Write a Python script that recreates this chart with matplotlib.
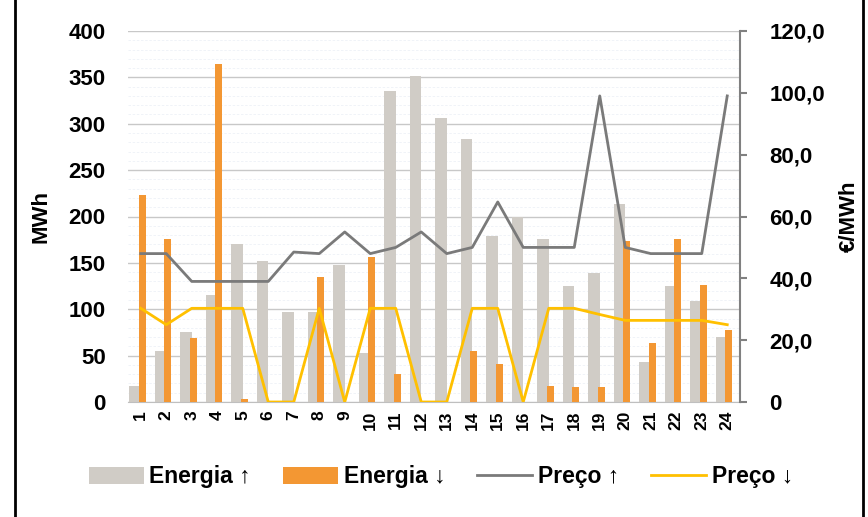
import matplotlib
matplotlib.use("Agg")
import matplotlib.pyplot as plt
import numpy as np
from matplotlib.lines import Line2D
from matplotlib.patches import Patch
from matplotlib.ticker import FuncFormatter, MultipleLocator

plt.rcParams["font.family"] = ["Liberation Sans", "DejaVu Sans"]
plt.rcParams["font.weight"] = "bold"

hours = list(range(1, 25))
energia_up = [17, 55, 75, 115, 170, 152, 97, 97, 148, 53, 335, 352,
              306, 284, 179, 199, 176, 125, 139, 214, 43, 125, 109, 70]
energia_down = [223, 176, 69, 364, 3, 0, 0, 135, 0, 156, 30, 0,
                0, 55, 41, 0, 17, 16, 16, 174, 64, 176, 126, 78]
preco_up = [48.0, 48.0, 39.0, 39.0, 39.0, 39.0, 48.5, 48.0, 55.0, 48.0, 50.0, 55.0,
            48.0, 50.0, 64.7, 50.0, 50.0, 50.0, 99.0, 50.0, 48.0, 48.0, 48.0, 99.0]
preco_down = [30.3, 25.0, 30.3, 30.3, 30.3, 0, 0, 30.3, 0, 30.3, 30.3, 0,
              0, 30.3, 30.3, 0, 30.3, 30.3, 28.3, 26.4, 26.4, 26.4, 26.4, 25.0]

c_gray_bar = "#D0CCC6"
c_orange = "#F39733"
c_gray_line = "#7A7A7A"
c_yellow = "#FFC000"

fig = plt.figure(figsize=(8.68, 5.17), dpi=100)
ax = fig.add_axes([128 / 868, 1 - 402 / 517, 612 / 868, 371 / 517])
ax2 = ax.twinx()

x = np.arange(len(hours))
ax.bar(x - 0.23, energia_up, width=0.46, color=c_gray_bar, zorder=2)
ax.bar(x + 0.06, energia_down, width=0.27, color=c_orange, zorder=3)

ax2.plot(x, preco_up, color=c_gray_line, lw=2.0)
ax2.plot(x, preco_down, color=c_yellow, lw=2.0)

ax.set_xlim(-0.5, len(hours) - 0.5)
ax.set_ylim(0, 400)
ax2.set_ylim(0, 120)

# grid: solid major, very faint dashed minor
ax.yaxis.set_major_locator(MultipleLocator(50))
ax.yaxis.set_minor_locator(MultipleLocator(10))
ax.grid(axis="y", which="major", color="#C8C8C8", lw=1.0, zorder=0)
ax.grid(axis="y", which="minor", color="#EEF1F7", lw=0.6, ls=(0, (3, 2)), zorder=0)
ax.set_axisbelow(True)

for a in (ax, ax2):
    for s in ("top", "left", "right"):
        a.spines[s].set_visible(False)
ax.spines["bottom"].set_color("#BFBFBF")
ax2.spines["bottom"].set_visible(False)
ax2.spines["right"].set_visible(True)
ax2.spines["right"].set_color("#808080")
ax2.spines["right"].set_linewidth(1.5)

ax.set_xticks(x)
ax.set_xticklabels([str(h) for h in hours], rotation=90, fontsize=12.5, fontweight="bold")
ax.tick_params(axis="x", length=0, pad=6)
ax.tick_params(axis="y", which="both", length=0, pad=16, labelsize=16)

ax2.yaxis.set_major_locator(MultipleLocator(20))
ax2.yaxis.set_major_formatter(FuncFormatter(
    lambda v, p: "0" if v == 0 else f"{v:.1f}".replace(".", ",")))
ax2.tick_params(axis="y", length=5, width=1.5, color="#808080", pad=16, labelsize=16)

ax.set_ylabel("MWh", fontsize=16, fontweight="bold", labelpad=12)
ax2.set_ylabel("€/MWh", fontsize=16, fontweight="bold", labelpad=10)

handles = [
    Patch(facecolor=c_gray_bar, label="Energia ↑"),
    Patch(facecolor=c_orange, label="Energia ↓"),
    Line2D([], [], color=c_gray_line, lw=2, label="Preço ↑"),
    Line2D([], [], color=c_yellow, lw=2, label="Preço ↓"),
]
fig.legend(handles=handles, loc="center", bbox_to_anchor=(441 / 868, 1 - 477 / 517),
           ncol=4, frameon=False, prop={"size": 16.5, "weight": "bold"},
           handlelength=2.4, handleheight=0.8, handletextpad=0.25, columnspacing=1.4)

# outer frame lines
fig.add_artist(Line2D([15 / 868, 15 / 868], [0, 1], color="black", lw=2, transform=fig.transFigure))
fig.add_artist(Line2D([863 / 868, 863 / 868], [0, 1], color="black", lw=2, transform=fig.transFigure))

fig.savefig("out.png", dpi=100)
